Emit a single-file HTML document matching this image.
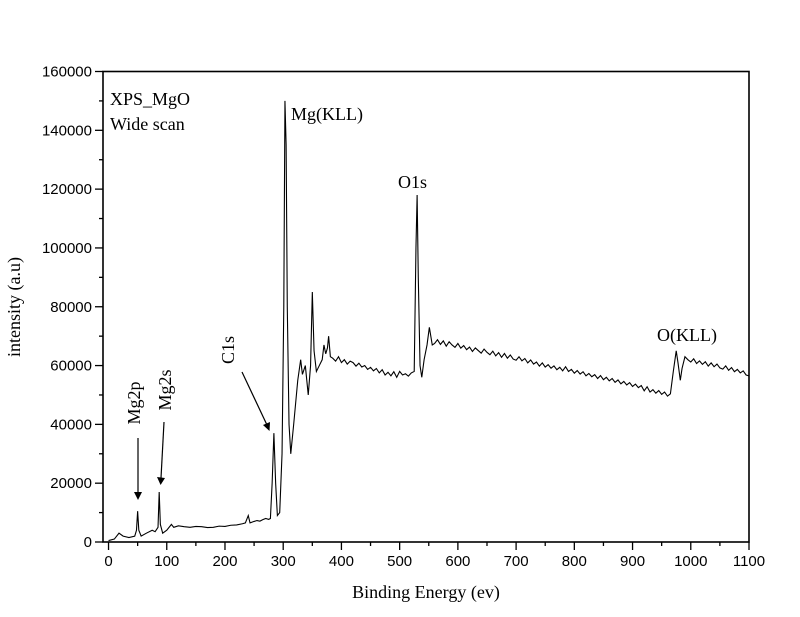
<!DOCTYPE html>
<html><head><meta charset="utf-8">
<style>
html,body{margin:0;padding:0;background:#fff;}
svg{display:block;}
.tk{font-family:"Liberation Sans",sans-serif;font-size:15px;fill:#000;}
.lb{font-family:"Liberation Serif",serif;font-size:18px;fill:#000;}
</style></head>
<body>
<svg id="chart" width="800" height="617" viewBox="0 0 800 617">
<g id="axes"></g>
<path id="spec" fill="none" stroke="#000" stroke-width="1.1"/>
<rect x="103" y="71.5" width="646" height="470.5" fill="none" stroke="#000" stroke-width="1.6"/>
<text class="lb" x="110" y="105">XPS_MgO</text>
<text class="lb" x="110" y="130">Wide scan</text>
<text class="lb" x="291" y="120">Mg(KLL)</text>
<text class="lb" x="398" y="188">O1s</text>
<text class="lb" x="657" y="341">O(KLL)</text>
<text class="lb" transform="translate(140,403) rotate(-90)" text-anchor="middle">Mg2p</text>
<text class="lb" transform="translate(171,390) rotate(-90)" text-anchor="middle">Mg2s</text>
<text class="lb" transform="translate(234,350) rotate(-90)" text-anchor="middle">C1s</text>
<g stroke="#000" stroke-width="1.2">
<line x1="138" y1="438" x2="138" y2="493"/>
<line x1="164" y1="422" x2="161" y2="478"/>
<line x1="242" y1="372" x2="267" y2="425"/>
</g>
<g fill="#000">
<polygon points="134,492 142,492 138,500"/>
<polygon points="157,477 165,478 160.6,485"/>
<polygon points="263,425 270,422 269.5,431"/>
</g>
<text class="lb" x="426" y="598" text-anchor="middle">Binding Energy (ev)</text>
<text class="lb" transform="translate(20,307) rotate(-90)" text-anchor="middle">intensity (a.u)</text>
</svg>
<script>
// Segment arrays: energies (eV) and intensities (thousands of counts)
const energiesA=[0,10,18,25,35,45,48,50,52,56,
65,75,80,85,87,89,93,100,108,112,
120,130,140,150,160,170,180,190,200,210,
220,230,235,240,243,250,255,260,265,270,
275,278,281,284,287,290,294,298,301,303,
305,307,310,313,318,325,330,333,338,343,
347,350,353,357,362,367,370,373,376,378,
381];
const countsA=[0.5,1,3,2,1.5,2,4,10.5,4,2,
3,4,3.5,5,17,6,3,4,6,5,
5.5,5.2,5,5.3,5.2,4.9,5,5.4,5.3,5.7,
5.8,6.2,6.5,9,6.5,7,7.3,7.1,7.6,8,
7.7,8,20,37,20,9,10,30,80,150,
135,80,40,30,40,55,62,57,60,50,
60,85,65,58,60,62,67,64,66,70,
63];
const energiesB=[385,390,395,400,405,410,415,420,425,430,
435,440,445,450,455,460,465,470,475,480,
485,490,495,500,505,510,515,520];
const countsB=[62.5,61.5,63,61,62,60.5,61.5,61,59.8,60.8,
59.5,60,58.7,59.4,58.2,59,57.5,58.6,56.8,57.7,
56.5,57.9,56,58,56.8,57.2,56.4,57.5];
const energiesC=[525,528,530,532,535,538,542,547,551,556];
const countsC=[58,100,118,90,60,56,62,67,73,67];
const energiesD=[560,565,570,575,580,585,590,595,600,605,
610,615,620,625,630,635,640,645,650,655,
660,665,670,675,680,685,690,695,700,705,
710,715,720,725,730,735,740,745,750,755,
760,765,770,775,780,785,790,795,800,805,
810,815,820,825,830,835,840,845,850,855,
860,865,870,875,880,885,890,895,900,905,
910,915,920,925,930,935,940,945,950,955,
960,965];
const countsD=[67.5,68.8,67.2,68.4,66.6,68.1,67.0,66.2,67.5,65.9,
66.8,65.4,66.3,64.8,66.0,65.1,64.2,65.6,64.5,63.7,
64.9,63.3,64.4,62.8,64.1,62.5,63.6,62.2,61.8,63.0,
61.6,62.4,60.9,61.9,60.5,61.2,59.8,60.9,59.5,60.3,
59.1,59.9,58.6,59.4,58.2,59.6,58.0,58.7,57.4,58.3,
57.1,57.9,56.5,57.3,56.2,56.9,55.6,56.6,55.2,56.0,
54.8,55.6,54.3,55.1,53.8,54.6,53.4,54.2,52.9,53.7,
52.5,53.2,51.4,52.8,51.0,51.8,50.6,51.5,50.2,51.0,
49.6,50.4];
const energiesE=[970,975,978,982,985,990,
995,1000,1005,1010,1015,1020,1025,1030,1035,1040,
1045,1050,1055,1060,1065,1070,1075,1080,1085,1090,
1095,1100];
const countsE=[58,65,61,55,59,63,
62,61.2,62.3,60.7,61.6,60.4,61.3,59.8,60.9,59.6,
60.5,59.2,58.8,59.9,58.4,59.3,57.9,58.7,57.5,58.2,
56.8,56.5];
const energies=energiesA.concat(energiesB,energiesC,energiesD,energiesE);
const counts=countsA.concat(countsB,countsC,countsD,countsE);
const xTicks=[0,100,200,300,400,500,600,700,800,900,1000,1100];
const yTicks=[0,20000,40000,60000,80000,100000,120000,140000,160000];
const X0=-9.5,X1=1100,PL=103,PR=749,PT=71.5,PB=542,Y1=160000;
function sx(v){return PL+(v-X0)/(X1-X0)*(PR-PL);}
function sy(v){return PB-v/Y1*(PB-PT);}
const NS='http://www.w3.org/2000/svg';
let d='';
const n=Math.min(energies.length,counts.length);
for(let i=0;i<n;i++){d+=(i?'L':'M')+sx(energies[i]).toFixed(2)+' '+sy(counts[i]*1000).toFixed(2);}
document.getElementById('spec').setAttribute('d',d);
const ax=document.getElementById('axes');
function ln(x1,y1,x2,y2){const l=document.createElementNS(NS,'line');l.setAttribute('x1',x1);l.setAttribute('y1',y1);l.setAttribute('x2',x2);l.setAttribute('y2',y2);l.setAttribute('stroke','#000');l.setAttribute('stroke-width','1.3');ax.appendChild(l);return l;}
xTicks.forEach((v,i)=>{
  const x=sx(v);
  const t=ln(x,PB,x,PB+8);
  
  
  if(i<xTicks.length-1){const m=ln(sx(v+50),PB,sx(v+50),PB+4);
    
    }
  const tx=document.createElementNS(NS,'text');tx.setAttribute('class','tk');tx.setAttribute('x',x);tx.setAttribute('y',PB+24);tx.setAttribute('text-anchor','middle');tx.textContent=v;
  
  
  ax.appendChild(tx);
});
yTicks.forEach((v,i)=>{
  const y=sy(v);
  const t=ln(PL-8,y,PL,y);
  
  
  if(i<yTicks.length-1){const m=ln(PL-4,sy(v+10000),PL,sy(v+10000));
    
    }
  const tx=document.createElementNS(NS,'text');tx.setAttribute('class','tk');tx.setAttribute('x',PL-11);tx.setAttribute('y',y+5);tx.setAttribute('text-anchor','end');tx.textContent=v;
  
  
  ax.appendChild(tx);
});
</script>
</body></html>
